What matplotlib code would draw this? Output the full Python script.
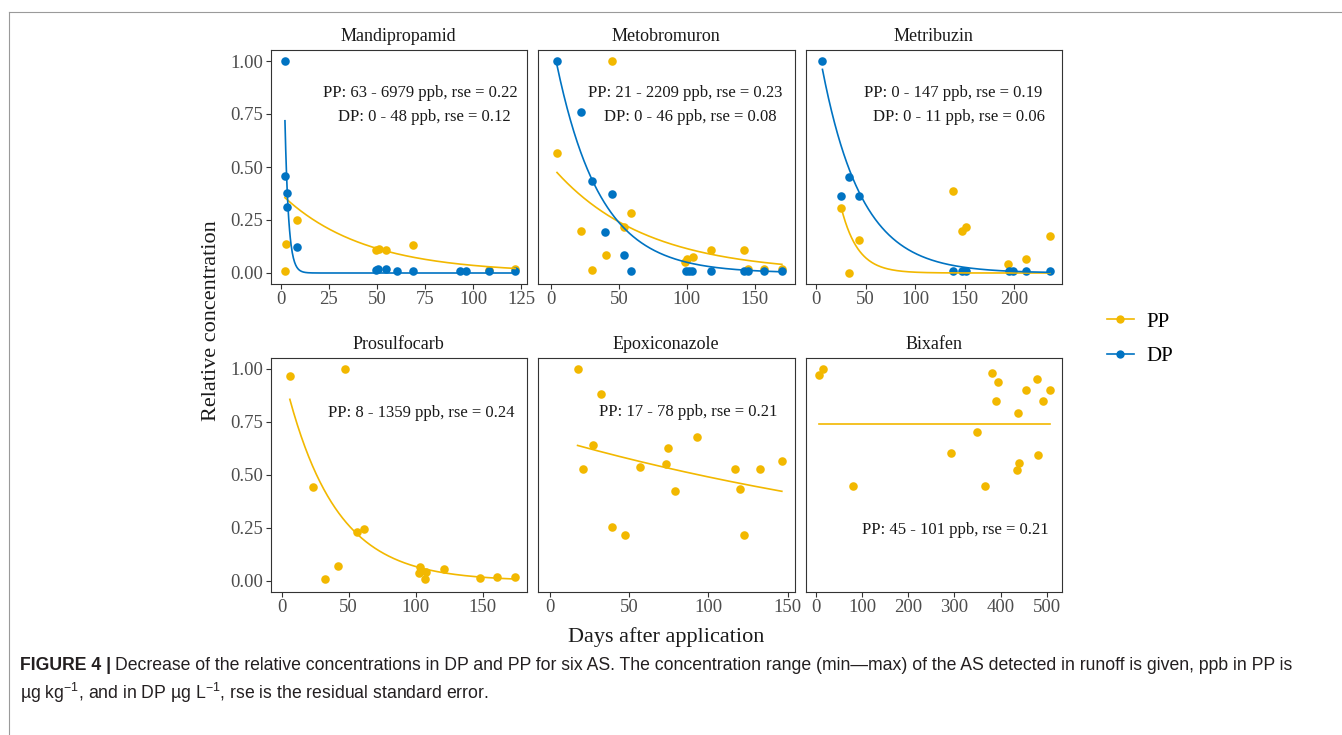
"""Facetted decay plot: relative concentrations of six AS in PP and DP over time."""
import numpy as np
import matplotlib
matplotlib.use("Agg")
import matplotlib.pyplot as plt
from matplotlib.lines import Line2D

plt.rcParams["font.family"] = ["Liberation Serif", "DejaVu Serif"]
plt.rcParams["mathtext.fontset"] = "custom"
plt.rcParams["mathtext.rm"] = "Liberation Sans"

PP_COL = "#F2B800"
DP_COL = "#0073C2"

panels = ["Mandipropamid", "Metobromuron", "Metribuzin",
          "Prosulfocarb", "Epoxiconazole", "Bixafen"]

# ---------- data (days after application, relative conc.) ----------
mand_pp_x = [2.3, 3.1, 8.7, 49.6, 51.1, 54.8, 68.8, 108.0, 121.8]
mand_pp_y = [0.01, 0.135, 0.249, 0.11, 0.115, 0.11, 0.134, 0.016, 0.02]
mand_dp_x = [2.3, 2.3, 3.6, 3.6, 8.7, 49.5, 50.8, 54.8, 60.7, 69.0, 92.9, 96.2, 108.0, 121.8]
mand_dp_y = [1.0, 0.457, 0.375, 0.312, 0.121, 0.013, 0.02, 0.02, 0.011, 0.01, 0.011, 0.011, 0.011, 0.01]

meto_pp_x = [4.4, 22.1, 30.4, 40.2, 44.9, 53.7, 58.8, 99.0, 100.2, 104.6, 118.0, 141.9, 145.0, 156.9, 170.1]
meto_pp_y = [0.565, 0.197, 0.013, 0.085, 1.0, 0.216, 0.283, 0.052, 0.068, 0.076, 0.11, 0.11, 0.02, 0.02, 0.02]
meto_dp_x = [4.4, 22.1, 30.4, 40.0, 45.1, 53.7, 58.8, 99.8, 101.5, 103.9, 118.0, 141.9, 145.0, 156.9, 170.1]
meto_dp_y = [1.0, 0.761, 0.435, 0.194, 0.372, 0.087, 0.01, 0.01, 0.01, 0.01, 0.01, 0.01, 0.01, 0.01, 0.01]

metr_pp_x = [25.2, 32.9, 43.0, 137.9, 147.0, 151.3, 194.0, 211.7, 235.9]
metr_pp_y = [0.307, 0.0, 0.154, 0.387, 0.197, 0.217, 0.041, 0.066, 0.175]
metr_dp_x = [6.4, 25.2, 32.9, 43.0, 137.9, 147.0, 151.3, 195.0, 198.3, 211.7, 235.9]
metr_dp_y = [1.0, 0.362, 0.454, 0.362, 0.01, 0.01, 0.01, 0.01, 0.01, 0.01, 0.01]

pros_pp_x = [6.2, 23.6, 32.3, 42.3, 47.3, 56.0, 61.2, 102.2, 103.2, 106.5, 107.5, 121.1, 148.0, 160.4, 174.1]
pros_pp_y = [0.969, 0.442, 0.011, 0.069, 1.0, 0.233, 0.247, 0.039, 0.064, 0.008, 0.042, 0.055, 0.013, 0.017, 0.017]

epox_pp_x = [17.4, 21.0, 26.9, 31.9, 39.1, 47.1, 57.1, 73.5, 74.6, 78.8, 92.6, 117.0, 120.2, 122.5, 132.4, 146.4]
epox_pp_y = [1.0, 0.527, 0.642, 0.884, 0.256, 0.219, 0.539, 0.55, 0.629, 0.425, 0.679, 0.527, 0.436, 0.219, 0.527, 0.564]

bixa_pp_x = [5.8, 15.2, 79.4, 293.0, 348.5, 366.5, 381.0, 390.3, 395.4, 435.8, 437.2, 440.8, 454.5, 478.4, 481.2, 492.8, 507.2]
bixa_pp_y = [0.970, 1.0, 0.447, 0.605, 0.703, 0.447, 0.98, 0.851, 0.94, 0.524, 0.792, 0.555, 0.901, 0.951, 0.594, 0.851, 0.901]

pp_x = [mand_pp_x, meto_pp_x, metr_pp_x, pros_pp_x, epox_pp_x, bixa_pp_x]
pp_y = [mand_pp_y, meto_pp_y, metr_pp_y, pros_pp_y, epox_pp_y, bixa_pp_y]
dp_x = [mand_dp_x, meto_dp_x, metr_dp_x, None, None, None]
dp_y = [mand_dp_y, meto_dp_y, metr_dp_y, None, None, None]

# first-order decay fits C = A * exp(-k t), parameters
pp_A = [0.375, 0.506, 1.372, 1.013, 0.676, 0.741]
pp_k = [0.0235, 0.0148, 0.059, 0.027, 0.0032, 0.0]
dp_A = [2.43, 1.123, 1.127, None, None, None]
dp_k = [0.53, 0.031, 0.025, None, None, None]

notes = [["PP: 63 - 6979 ppb, rse = 0.22", "DP: 0 - 48 ppb, rse = 0.12"],
         ["PP: 21 - 2209 ppb, rse = 0.23", "DP: 0 - 46 ppb, rse = 0.08"],
         ["PP: 0 - 147 ppb, rse = 0.19", "DP: 0 - 11 ppb, rse = 0.06"],
         ["PP: 8 - 1359 ppb, rse = 0.24"],
         ["PP: 17 - 78 ppb, rse = 0.21"],
         ["PP: 45 - 101 ppb, rse = 0.21"]]
note_y = [[0.848, 0.734], [0.848, 0.734], [0.848, 0.734], [0.791], [0.796], [0.241]]
note_x = [[0.583, 0.600], [0.575, 0.595], [0.574, 0.597], [0.586], [0.585], [0.585]]

xlims = [(-5.2, 127.9), (-9.6, 179.4), (-10.7, 248.0),
         (-8.2, 182.8), (-7.6, 154.4), (-23.1, 533.2)]
xticks = [[0, 25, 50, 75, 100, 125], [0, 50, 100, 150], [0, 50, 100, 150, 200],
          [0, 50, 100, 150], [0, 50, 100, 150], [0, 100, 200, 300, 400, 500]]
yticks = [0.0, 0.25, 0.5, 0.75, 1.0]

caption_1 = ("Decrease of the relative concentrations in DP and PP for six AS. The concentration "
             "range (min\u2014max) of the AS detected in runoff is given, ppb in PP is")
caption_2 = r"µg kg$^{-1}$, and in DP µg L$^{-1}$, rse is the residual standard error."

# ---------- layout ----------
W, H = 1342, 735
fig = plt.figure(figsize=(W / 100, H / 100), dpi=100)
col_left = [270.5, 538.0, 805.5]
row_top = [50.4, 358.4]
pw, ph = 256.5, 233.2

for i, name in enumerate(panels):
    r, c = divmod(i, 3)
    ax = fig.add_axes([col_left[c] / W, 1 - (row_top[r] + ph) / H, pw / W, ph / H])

    ax.scatter(pp_x[i], pp_y[i], s=38, color=PP_COL, zorder=3, linewidths=0)
    if dp_x[i] is not None:
        ax.scatter(dp_x[i], dp_y[i], s=38, color=DP_COL, zorder=4, linewidths=0)

    t = np.linspace(min(pp_x[i]), max(pp_x[i]), 300)
    ax.plot(t, pp_A[i] * np.exp(-pp_k[i] * t), color=PP_COL, lw=1.2, zorder=5)
    if dp_x[i] is not None:
        t = np.linspace(min(dp_x[i]), max(dp_x[i]), 600)
        ax.plot(t, dp_A[i] * np.exp(-dp_k[i] * t), color=DP_COL, lw=1.2, zorder=6)

    for txt, tx, ty in zip(notes[i], note_x[i], note_y[i]):
        ax.text(tx, ty, txt, transform=ax.get_yaxis_transform(), ha="center", va="center",
                fontsize=12, color="#1A1A1A")

    ax.set_xlim(*xlims[i])
    ax.set_ylim(-0.05, 1.05)
    ax.set_xticks(xticks[i])
    ax.set_yticks(yticks)
    ax.set_yticklabels(["0.00", "0.25", "0.50", "0.75", "1.00"])
    ax.set_title(name, fontsize=13, pad=7, color="#1A1A1A")
    for sp in ax.spines.values():
        sp.set_color("#333333")
        sp.set_linewidth(0.8)
    ax.tick_params(axis="both", length=3.5, width=0.8, color="#333333",
                   labelsize=13.5, labelcolor="#4D4D4D", pad=2)
    if c > 0:
        ax.tick_params(axis="y", left=False, labelleft=False)

fig.text(212 / W, 1 - 321 / H, "Relative concentration", rotation=90,
         ha="center", va="center", fontsize=16, color="#1A1A1A")
fig.text(666 / W, 1 - 637 / H, "Days after application",
         ha="center", va="center", fontsize=16, color="#1A1A1A")

handles = [Line2D([], [], color=PP_COL, lw=1.2, marker="o", ms=6, mew=0),
           Line2D([], [], color=DP_COL, lw=1.2, marker="o", ms=6, mew=0)]
fig.legend(handles, ["PP", "DP"], loc="center left", frameon=False,
           bbox_to_anchor=(1088 / W, 1 - 339 / H), fontsize=15,
           handlelength=1.3, handletextpad=0.6, labelspacing=0.7)

# frame lines of the page
fig.add_artist(Line2D([9 / W, 1], [1 - 11.5 / H] * 2, color="#9A9A9A", lw=0.8,
                      transform=fig.transFigure))
fig.add_artist(Line2D([9 / W, 9 / W], [0, 1 - 11.5 / H], color="#9A9A9A", lw=0.8,
                      transform=fig.transFigure))

# caption
cap_font = dict(family=["Liberation Sans", "DejaVu Sans"], fontsize=12.72, color="#231F20")
bold = fig.text(20 / W, 1 - 665 / H, "FIGURE 4 |", fontweight="bold", va="center", **cap_font)
fig.canvas.draw()
bb = bold.get_window_extent()
fig.text(bb.x1 / W + 4 / W, 1 - 665 / H, caption_1, va="center", **cap_font)
fig.text(20 / W, 1 - 693 / H, caption_2, va="center", **cap_font)

fig.savefig("out.png", dpi=100)
